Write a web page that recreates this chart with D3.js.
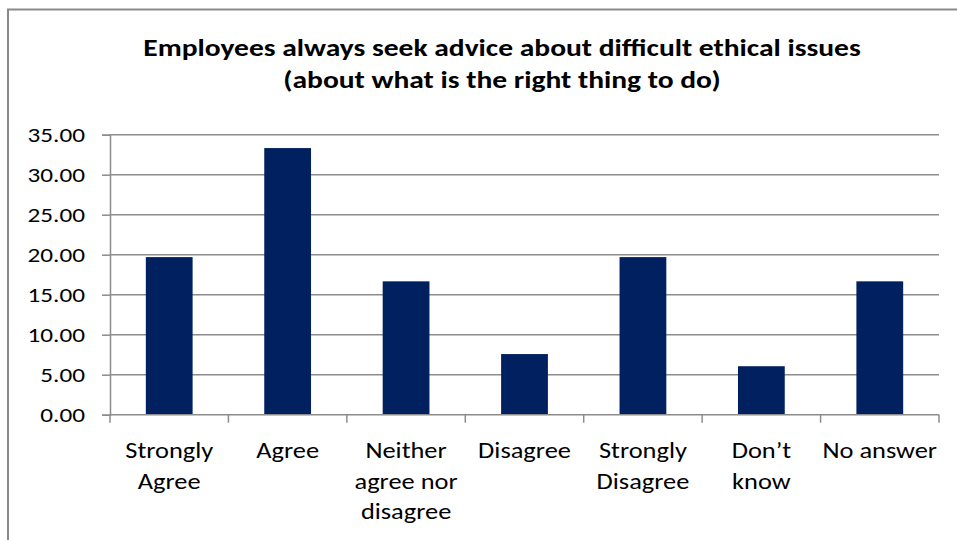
<!DOCTYPE html>
<html>
<head>
<meta charset="utf-8">
<script src="https://cdn.jsdelivr.net/npm/d3@7"></script>
<style>
  html, body { margin: 0; padding: 0; background: #ffffff; }
  svg { display: block; }
  text { font-family: Carlito, Lato, "Open Sans", sans-serif; fill: #000; }
</style>
</head>
<body>
<svg id="chart" width="957" height="540"></svg>
<script>
// Survey responses (% of respondents)
const categories = [
  "Strongly Agree", "Agree", "Neither agree nor disagree", "Disagree",
  "Strongly Disagree", "Don’t know", "No answer"
];
const categoryLines = [
  ["Strongly", "Agree"], ["Agree"], ["Neither", "agree nor", "disagree"], ["Disagree"],
  ["Strongly", "Disagree"], ["Don’t", "know"], ["No answer"]
];
const percentages = [19.70, 33.33, 16.67, 7.58, 19.70, 6.06, 16.67];
const yTicks = [0, 5, 10, 15, 20, 25, 30, 35];
const titleLines = [
  "Employees always seek advice about difficult ethical issues",
  "(about what is the right thing to do)"
];

const svg = d3.select("#chart");
const plot = { left: 110, right: 939, top: 134.7, bottom: 414.7 };
const stretch = 1.2;   // text is set slightly wide
const gridColor = "#8c8c8c";

// Chart frame
svg.append("rect")
  .attr("x", 8).attr("y", 9.5)
  .attr("width", 1000).attr("height", 600)
  .attr("fill", "#fff")
  .attr("stroke", "#8a8a8a").attr("stroke-width", 2);

// Title
svg.append("g")
  .attr("transform", `translate(502,0) scale(${stretch},1)`)
  .append("text")
  .attr("text-anchor", "middle")
  .attr("font-weight", "bold")
  .attr("font-size", 24.6)
  .selectAll("tspan").data(titleLines).join("tspan")
  .attr("x", 0)
  .attr("y", (d, i) => 56 + i * 32)
  .text(d => d);

const x = d3.scaleBand()
  .domain(categories)
  .range([plot.left, plot.right])
  .paddingInner(0.605)
  .paddingOuter(0.3025);

const y = d3.scaleLinear()
  .domain([0, 35])
  .range([plot.bottom, plot.top]);

// Horizontal gridlines
svg.append("g")
  .selectAll("line").data(yTicks.filter(v => v > 0)).join("line")
  .attr("x1", plot.left).attr("x2", plot.right)
  .attr("y1", d => y(d)).attr("y2", d => y(d))
  .attr("stroke", gridColor).attr("stroke-width", 1.5);

// Bars
svg.append("g")
  .selectAll("rect").data(percentages).join("rect")
  .attr("x", (d, i) => x(categories[i]))
  .attr("y", d => y(d))
  .attr("width", x.bandwidth())
  .attr("height", d => y(0) - y(d))
  .attr("fill", "#002060");

// Y axis
const yAxis = svg.append("g")
  .attr("transform", `translate(${plot.left},0)`)
  .call(d3.axisLeft(y).tickValues(yTicks).tickFormat(d3.format(".2f")).tickSize(8).tickPadding(17));
yAxis.select(".domain").attr("stroke", gridColor).attr("stroke-width", 1.5);
yAxis.selectAll(".tick line").attr("stroke", gridColor).attr("stroke-width", 1.5);
yAxis.selectAll(".tick text")
  .attr("font-size", 21)
  .attr("font-family", null)
  .attr("fill", "#000")
  .attr("x", -25 / stretch)
  .attr("transform", `scale(${stretch},1)`);

// X axis: baseline, boundary ticks and wrapped category labels
const step = x.step();
const boundaries = d3.range(categories.length + 1).map(i => plot.left + i * step);
svg.append("line")
  .attr("x1", plot.left).attr("x2", plot.right)
  .attr("y1", y(0)).attr("y2", y(0))
  .attr("stroke", gridColor).attr("stroke-width", 1.5);
svg.append("g")
  .selectAll("line").data(boundaries).join("line")
  .attr("x1", d => d).attr("x2", d => d)
  .attr("y1", y(0)).attr("y2", y(0) + 8)
  .attr("stroke", gridColor).attr("stroke-width", 1.5);

svg.append("g")
  .selectAll("g").data(categories).join("g")
  .attr("transform", d => `translate(${x(d) + x.bandwidth() / 2},0) scale(${stretch},1)`)
  .append("text")
  .attr("text-anchor", "middle")
  .attr("font-size", 22)
  .each(function (d, i) {
    d3.select(this).selectAll("tspan").data(categoryLines[i]).join("tspan")
      .attr("x", 0)
      .attr("y", (t, j) => 458 + j * 30.7)
      .text(t => t);
  });
</script>
</body>
</html>
